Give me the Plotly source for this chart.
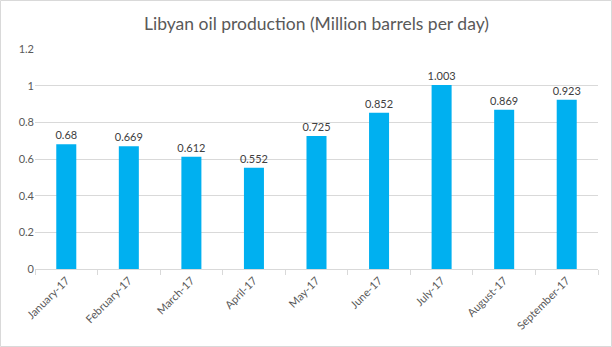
import plotly.graph_objects as go

months = ["January-17", "February-17", "March-17", "April-17", "May-17",
          "June-17", "July-17", "August-17", "September-17"]
production = [0.68, 0.669, 0.612, 0.552, 0.725, 0.852, 1.003, 0.869, 0.923]
y_ticks = [0, 0.2, 0.4, 0.6, 0.8, 1, 1.2]
y_tick_labels = ["0", "0.2", "0.4", "0.6", "0.8", "1", "1.2"]

W, H = 612, 347
L, R, T, B = 35, 14, 49, 78
pw, ph = W - L - R, H - T - B

font_fam = "Lato, Open Sans, sans-serif"
gray = "#595959"

fig = go.Figure(go.Bar(
    x=months, y=production,
    marker=dict(color="#00B0F0", line=dict(width=0)),
    text=[f"{v:g}" for v in production],
    textposition="outside",
    constraintext="none",
    textfont=dict(size=11, color="#404040", family=font_fam),
    cliponaxis=False,
))

fig.update_layout(
    width=W, height=H,
    margin=dict(l=L, r=R, t=T, b=B, pad=0),
    paper_bgcolor="white", plot_bgcolor="white",
    bargap=0.68,
    showlegend=False,
    title=dict(text="Libyan oil production (Million barrels per day)",
               x=0.5, xref="paper", xanchor="center",
               y=1 - 24 / H, yanchor="middle",
               font=dict(size=17.5, color=gray, family=font_fam)),
    font=dict(family=font_fam, color=gray),
    xaxis=dict(
        showgrid=False, showline=True, linecolor="#d9d9d9", linewidth=1,
        ticks="outside", tickson="boundaries", ticklen=5, tickcolor="#d9d9d9",
        tickangle=-45, tickfont=dict(size=11, color=gray, family=font_fam),
    ),
    yaxis=dict(
        range=[0, 1.2], tickvals=y_ticks, ticktext=y_tick_labels,
        showgrid=True, gridcolor="#d9d9d9", gridwidth=1,
        zeroline=False, showline=False, ticks="",
        tickfont=dict(size=11, color=gray, family=font_fam),
    ),
    shapes=[dict(
        type="rect", xref="paper", yref="paper",
        x0=(0.5 - L) / pw, x1=(W - 0.5 - L) / pw,
        y0=-(B - 0.5) / ph, y1=1 + (T - 0.5) / ph,
        line=dict(color="#d9d9d9", width=1), fillcolor="rgba(0,0,0,0)",
        layer="below",
    )],
)

fig.write_html("out.html")
